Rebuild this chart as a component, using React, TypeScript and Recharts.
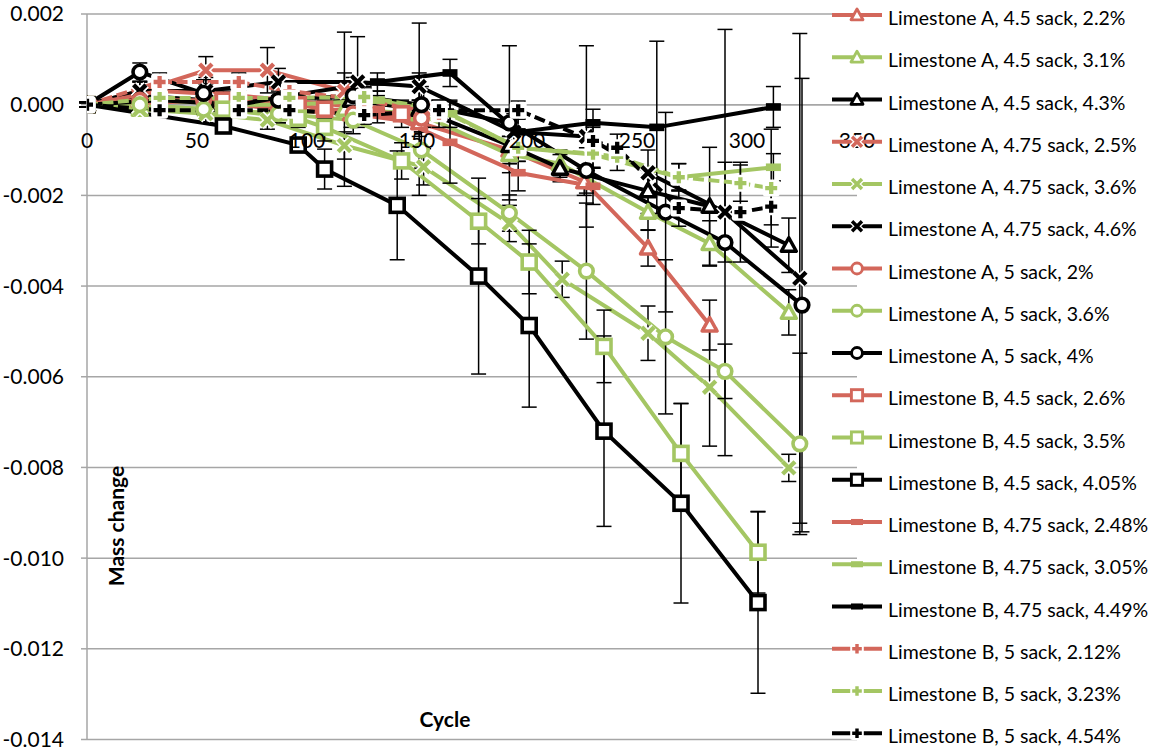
import React from 'react';
import { LineChart, Line, XAxis, YAxis, CartesianGrid, ErrorBar, ReferenceLine, Legend } from 'recharts';

const RED = '#D3675B';
const GREEN = '#A4C663';
const BLACK = '#000000';
const GRID = '#A6A6A6';
const FONT = 'Lato, "Open Sans", sans-serif';

const X_TICKS = [0, 50, 100, 150, 200, 250, 300, 350];
const Y_TICKS = [0.002, 0, -0.002, -0.004, -0.006, -0.008, -0.01, -0.012, -0.014];

const SERIES_NAMES = [
  'Limestone A, 4.5 sack, 2.2%',
  'Limestone A, 4.5 sack, 3.1%',
  'Limestone A, 4.5 sack, 4.3%',
  'Limestone A, 4.75 sack, 2.5%',
  'Limestone A, 4.75 sack, 3.6%',
  'Limestone A, 4.75 sack, 4.6%',
  'Limestone A, 5 sack, 2%',
  'Limestone A, 5 sack, 3.6%',
  'Limestone A, 5 sack, 4%',
  'Limestone B, 4.5 sack, 2.6%',
  'Limestone B, 4.5 sack, 3.5%',
  'Limestone B, 4.5 sack, 4.05%',
  'Limestone B, 4.75 sack, 2.48%',
  'Limestone B, 4.75 sack, 3.05%',
  'Limestone B, 4.75 sack, 4.49%',
  'Limestone B, 5 sack, 2.12%',
  'Limestone B, 5 sack, 3.23%',
  'Limestone B, 5 sack, 4.54%',
];

// Limestone A, 4.5 sack
const a45_22_x = [0, 24, 54, 87, 120, 151, 192, 226, 255, 283];
const a45_22_y = [0, 0.0001, 0.0001, -0.0001, -0.0002, -0.0004, -0.001, -0.0017, -0.00316, -0.00486];
const a45_22_e = [0.00005, 0.0002, 0.0002, 0.0002, 0.0003, 0.0003, 0.0003, 0.0003, 0.0004, 0.00055];

const a45_31_x = [0, 24, 54, 87, 117, 151, 192, 215, 255, 283, 319];
const a45_31_y = [0, -0.0001, -0.0001, -0.0002, -0.0001, -0.0002, -0.0011, -0.0013, -0.00237, -0.00306, -0.00458];
const a45_31_e = [0.00005, 0.0001, 0.0001, 0.0002, 0.0017, 0.0003, 0.0004, 0.0003, 0.0004, 0.0005, 0.0005];

const a45_43_x = [0, 24, 54, 87, 120, 151, 192, 215, 255, 283, 319];
const a45_43_y = [0, 0.0002, 0.0001, 0, 0.0001, -0.0001, -0.0009, -0.0014, -0.0019, -0.00224, -0.0031];
const a45_43_e = [0.00005, 0.0002, 0.0002, 0.0003, 0.0003, 0.0019, 0.0004, 0.0003, 0.0005, 0.0013, 0.0006];

// Limestone A, 4.75 sack
const a475_25_x = [0, 24, 54, 82, 117, 153];
const a475_25_y = [0, 0.0003, 0.00076, 0.00076, 0.0003, -0.0001];
const a475_25_e = [0.00005, 0.0002, 0.0003, 0.0005, 0.0004, 0.0004];

const a475_36_x = [0, 24, 54, 82, 117, 153, 192, 216, 255, 283, 319];
const a475_36_y = [0, -0.0001, -0.0002, -0.00034, -0.0009, -0.00137, -0.00262, -0.00385, -0.00504, -0.00623, -0.00801];
const a475_36_e = [0.00005, 0.0001, 0.0002, 0.0002, 0.0003, 0.0004, 0.0004, 0.0004, 0.0006, 0.0013, 0.0003];

const a475_46_x = [0, 24, 54, 87, 123, 151, 194, 227, 255, 290, 324];
const a475_46_y = [0, 0.0003, 0.0003, 0.0005, 0.0005, 0.0004, -0.0006, -0.0007, -0.0015, -0.00237, -0.00383];
const a475_46_e = [0.00005, 0.0002, 0.0003, 0.0003, 0.001, 0.0003, 0.0004, 0.002, 0.0005, 0.0011, 0.0054];

// Limestone A, 5 sack
const a5_2_x = [0, 24, 53, 87, 121, 152];
const a5_2_y = [0, 0.0001, 0.0001, -0.0001, -0.0002, -0.0003];
const a5_2_e = [0.00005, 0.0001, 0.0002, 0.0002, 0.0002, 0.0003];

const a5_36_x = [0, 24, 53, 87, 121, 152, 192, 227, 263, 290, 324];
const a5_36_y = [0, 0, -0.0001, -0.0002, -0.00034, -0.001, -0.00239, -0.00367, -0.00512, -0.00588, -0.00748];
const a5_36_e = [0.00005, 0.0001, 0.0001, 0.0002, 0.0003, 0.0004, 0.0004, 0.0015, 0.0017, 0.0006, 0.002];

const a5_4_x = [0, 24, 53, 87, 121, 152, 192, 227, 263, 290, 325];
const a5_4_y = [0, 0.00072, 0.00025, 0.0001, 0.0002, 0, -0.0004, -0.00145, -0.00237, -0.00304, -0.00442];
const a5_4_e = [0.00005, 0.0002, 0.0003, 0.0003, 0.0004, 0.0004, 0.0017, 0.0005, 0.0022, 0.0047, 0.005];

// Limestone B, 4.5 sack
const b45_26_x = [0, 62, 96, 108, 143];
const b45_26_y = [0, 0.0001, 0, -0.0001, -0.0002];
const b45_26_e = [0.00005, 0.0002, 0.0002, 0.0002, 0.0003];

const b45_35_x = [0, 62, 96, 108, 143, 178, 201, 235, 270, 305];
const b45_35_y = [0, -0.0001, -0.0003, -0.0005, -0.00124, -0.00257, -0.00347, -0.00533, -0.00769, -0.00987];
const b45_35_e = [0.00005, 0.0001, 0.0002, 0.0003, 0.0004, 0.0005, 0.0007, 0.0008, 0.0011, 0.0009];

const b45_405_x = [0, 62, 96, 108, 141, 178, 201, 235, 270, 305];
const b45_405_y = [0, -0.00047, -0.00089, -0.00142, -0.00222, -0.00378, -0.00487, -0.0072, -0.00879, -0.01098];
const b45_405_e = [0.00005, 0.0001, 0.0001, 0.00044, 0.0012, 0.00216, 0.0018, 0.0021, 0.0022, 0.002];

// Limestone B, 4.75 sack
const b475_248_x = [0, 33, 69, 92, 132, 165, 196, 230];
const b475_248_y = [0, 0.0003, 0.0002, 0.0001, -0.0001, -0.00083, -0.0015, -0.0018];
const b475_248_e = [0.00005, 0.0001, 0.0002, 0.0002, 0.0003, 0.0009, 0.0004, 0.0004];

const b475_305_x = [0, 33, 69, 92, 132, 165, 196, 230, 269, 312];
const b475_305_y = [0, 0.0001, 0, 0, 0.0001, -0.0002, -0.00095, -0.0011, -0.0016, -0.00138];
const b475_305_e = [0.00005, 0.0001, 0.0001, 0.0002, 0.0002, 0.0003, 0.0003, 0.0003, 0.0003, 0.0003];

const b475_449_x = [0, 33, 69, 92, 132, 165, 196, 230, 259, 312];
const b475_449_y = [0, 0.0001, 0, 0.0002, 0.0005, 0.0007, -0.0006, -0.0004, -0.0005, -0.00005];
const b475_449_e = [0.00005, 0.0001, 0.0001, 0.0002, 0.0002, 0.0003, 0.0004, 0.0003, 0.0019, 0.00045];

// Limestone B, 5 sack
const b5_212_x = [0, 33, 69, 92, 126, 160];
const b5_212_y = [0, 0.0005, 0.0005, 0.0003, 0.0001, -0.0002];
const b5_212_e = [0.00005, 0.0002, 0.0002, 0.0002, 0.0003, 0.0003];

const b5_323_x = [0, 33, 69, 92, 126, 160, 196, 230, 241, 269, 297, 311];
const b5_323_y = [0, 0.00015, 0.00015, 0.00015, 0.00017, -0.0001, -0.00095, -0.00108, -0.00115, -0.0016, -0.00173, -0.00184];
const b5_323_e = [0.00005, 0.0001, 0.0001, 0.0001, 0.0002, 0.0002, 0.0003, 0.0003, 0.0003, 0.0003, 0.0004, 0.0013];

const b5_454_x = [0, 33, 69, 92, 126, 160, 196, 230, 241, 269, 297, 311];
const b5_454_y = [0, -0.00012, -0.00012, -0.00012, -0.00023, -0.00012, -0.00012, -0.0008, -0.00095, -0.00228, -0.00237, -0.00225];
const b5_454_e = [0.00005, 0.0001, 0.0001, 0.0001, 0.0002, 0.0002, 0.0002, 0.0003, 0.0003, 0.0004, 0.0011, 0.0004];

type Kind = 'triangle' | 'x' | 'circle' | 'square' | 'dash' | 'plus';

const toPoints = (xs: number[], ys: number[], es: number[]) =>
  xs.map((x, i) => ({ x, y: ys[i], e: es[i] }));

const SERIES: { name: string; color: string; kind: Kind; dashed: boolean; data: any[] }[] = [
  { name: SERIES_NAMES[0], color: RED, kind: 'triangle', dashed: false, data: toPoints(a45_22_x, a45_22_y, a45_22_e) },
  { name: SERIES_NAMES[1], color: GREEN, kind: 'triangle', dashed: false, data: toPoints(a45_31_x, a45_31_y, a45_31_e) },
  { name: SERIES_NAMES[2], color: BLACK, kind: 'triangle', dashed: false, data: toPoints(a45_43_x, a45_43_y, a45_43_e) },
  { name: SERIES_NAMES[3], color: RED, kind: 'x', dashed: false, data: toPoints(a475_25_x, a475_25_y, a475_25_e) },
  { name: SERIES_NAMES[4], color: GREEN, kind: 'x', dashed: false, data: toPoints(a475_36_x, a475_36_y, a475_36_e) },
  { name: SERIES_NAMES[5], color: BLACK, kind: 'x', dashed: false, data: toPoints(a475_46_x, a475_46_y, a475_46_e) },
  { name: SERIES_NAMES[6], color: RED, kind: 'circle', dashed: false, data: toPoints(a5_2_x, a5_2_y, a5_2_e) },
  { name: SERIES_NAMES[7], color: GREEN, kind: 'circle', dashed: false, data: toPoints(a5_36_x, a5_36_y, a5_36_e) },
  { name: SERIES_NAMES[8], color: BLACK, kind: 'circle', dashed: false, data: toPoints(a5_4_x, a5_4_y, a5_4_e) },
  { name: SERIES_NAMES[9], color: RED, kind: 'square', dashed: false, data: toPoints(b45_26_x, b45_26_y, b45_26_e) },
  { name: SERIES_NAMES[10], color: GREEN, kind: 'square', dashed: false, data: toPoints(b45_35_x, b45_35_y, b45_35_e) },
  { name: SERIES_NAMES[11], color: BLACK, kind: 'square', dashed: false, data: toPoints(b45_405_x, b45_405_y, b45_405_e) },
  { name: SERIES_NAMES[12], color: RED, kind: 'dash', dashed: false, data: toPoints(b475_248_x, b475_248_y, b475_248_e) },
  { name: SERIES_NAMES[13], color: GREEN, kind: 'dash', dashed: false, data: toPoints(b475_305_x, b475_305_y, b475_305_e) },
  { name: SERIES_NAMES[14], color: BLACK, kind: 'dash', dashed: false, data: toPoints(b475_449_x, b475_449_y, b475_449_e) },
  { name: SERIES_NAMES[15], color: RED, kind: 'plus', dashed: true, data: toPoints(b5_212_x, b5_212_y, b5_212_e) },
  { name: SERIES_NAMES[16], color: GREEN, kind: 'plus', dashed: true, data: toPoints(b5_323_x, b5_323_y, b5_323_e) },
  { name: SERIES_NAMES[17], color: BLACK, kind: 'plus', dashed: true, data: toPoints(b5_454_x, b5_454_y, b5_454_e) },
];

// layout
const W = 1158;
const H = 753;
const PLOT_TOP = 14;
const PLOT_LEFT = 87;
const PLOT_RIGHT = 857;
const PLOT_BOTTOM = 739.5;
const X_AXIS_H = 1;
const PLOT_H = PLOT_BOTTOM - PLOT_TOP;
const Y_MAX = 0.002;
const Y_MIN = -0.014;
const ZERO_Y = PLOT_TOP + (PLOT_H * Y_MAX) / (Y_MAX - Y_MIN);

function Marker({ kind, color, cx, cy, s = 1 }: { kind: Kind; color: string; cx: number; cy: number; s?: number }) {
  if (cx == null || cy == null || isNaN(cx) || isNaN(cy)) return null;
  switch (kind) {
    case 'triangle': {
      const h = 7.5 * s;
      return (
        <polygon
          points={`${cx},${cy - h} ${cx + h},${cy + h * 0.8} ${cx - h},${cy + h * 0.8}`}
          fill="#fff"
          stroke={color}
          strokeWidth={3.5 * s}
          strokeLinejoin="round"
        />
      );
    }
    case 'x': {
      const d = 6.2 * s;
      const p = `M${cx - d},${cy - d}L${cx + d},${cy + d}M${cx - d},${cy + d}L${cx + d},${cy - d}`;
      return (
        <g>
          <path d={p} stroke="#fff" strokeWidth={7.5 * s} />
          <path d={p} stroke={color} strokeWidth={4.3 * s} />
        </g>
      );
    }
    case 'circle':
      return <circle cx={cx} cy={cy} r={6.8 * s} fill="#fff" stroke={color} strokeWidth={3.6 * s} />;
    case 'square':
      return (
        <rect x={cx - 7 * s} y={cy - 7 * s} width={14 * s} height={14 * s} fill="#fff" stroke={color} strokeWidth={3.6 * s} />
      );
    case 'dash':
      return <rect x={cx - 7.5 * s} y={cy - 3.8 * s} width={15 * s} height={7.6 * s} fill={color} />;
    case 'plus': {
      const a = 6 * s;
      return (
        <g>
          <rect x={cx - 8.5 * s} y={cy - 8.5 * s} width={17 * s} height={17 * s} rx={3 * s} fill="#fff" />
          <path d={`M${cx - a},${cy}H${cx + a}M${cx},${cy - a}V${cy + a}`} stroke={color} strokeWidth={4.3 * s} />
        </g>
      );
    }
  }
  return null;
}

const renderXTick = (props: any) => {
  const { x, payload } = props;
  return (
    <text x={x} y={ZERO_Y + 43} textAnchor="middle" fontSize={21} fontFamily={FONT} fill="#000">
      {payload.value}
    </text>
  );
};

const LEG_LEFT = 815;
const LEG_Y0 = 15;
const LEG_DY = 42.25;

const renderLegend = () => (
  <svg width={W - LEG_LEFT} height={H} style={{ display: 'block', overflow: 'visible' }}>
    {SERIES.map((s, i) => {
      const cy = LEG_Y0 + i * LEG_DY;
      return (
        <g key={s.name}>
          {s.dashed ? (
            <g>
              <line x1={17} x2={36} y1={cy} y2={cy} stroke={s.color} strokeWidth={4} />
              <line x1={48} x2={67} y1={cy} y2={cy} stroke={s.color} strokeWidth={4} />
            </g>
          ) : (
            <line x1={17} x2={67} y1={cy} y2={cy} stroke={s.color} strokeWidth={4} />
          )}
          <Marker kind={s.kind} color={s.color} cx={42} cy={cy} s={0.8} />
          <text x={73} y={cy + 10} fontSize={19.5} fontFamily={FONT} fill="#000">
            {s.name}
          </text>
        </g>
      );
    })}
  </svg>
);

const yTitle = () => (
  <text
    x={115}
    y={526}
    transform="rotate(-90 115 526)"
    textAnchor="middle"
    dominantBaseline="central"
    fontSize={21}
    fontWeight="bold"
    fontFamily={FONT}
    fill="#000"
  >
    Mass change
  </text>
);

const xTitle = () => (
  <text x={445} y={718} textAnchor="middle" dominantBaseline="central" fontSize={21} fontWeight="bold" fontFamily={FONT} fill="#000">
    Cycle
  </text>
);

export default function App() {
  return (
    <div style={{ position: 'absolute', left: 0, top: 0, width: W, height: H, background: '#fff', fontFamily: FONT }}>
      <LineChart
        width={W}
        height={H}
        margin={{ top: PLOT_TOP, right: W - PLOT_RIGHT, bottom: H - PLOT_BOTTOM - X_AXIS_H, left: 0 }}
      >
        <CartesianGrid horizontal vertical={false} stroke={GRID} strokeWidth={1.5} />
        <XAxis
          type="number"
          dataKey="x"
          domain={[0, 350]}
          ticks={X_TICKS}
          interval={0}
          height={X_AXIS_H}
          axisLine={false}
          tickLine={false}
          tick={renderXTick}
          allowDataOverflow
          label={xTitle}
        />
        <YAxis
          type="number"
          domain={[Y_MIN, Y_MAX]}
          ticks={Y_TICKS}
          interval={0}
          width={PLOT_LEFT}
          axisLine={{ stroke: GRID, strokeWidth: 1.5 }}
          tickLine={{ stroke: GRID, strokeWidth: 1.5 }}
          tickSize={6}
          tickMargin={17}
          tick={{ fill: '#000', fontSize: 21, fontFamily: FONT }}
          tickFormatter={(v: number) => v.toFixed(3)}
          allowDataOverflow
          label={yTitle}
        />
        <ReferenceLine y={0} stroke={GRID} strokeWidth={1.5} />
        {SERIES.map((s, si) => (
          <Line
            key={s.name}
            name={s.name}
            data={s.data}
            dataKey="y"
            type="linear"
            stroke={s.color}
            strokeWidth={4}
            strokeDasharray={s.dashed ? '11 4.5' : undefined}
            isAnimationActive={false}
            activeDot={false}
            dot={(p: any) => <Marker key={`m-${si}-${p.index}`} kind={s.kind} color={s.color} cx={p.cx} cy={p.cy} />}
          >
            <ErrorBar dataKey="e" direction="y" width={7.5} stroke="#000" strokeWidth={1.5} isAnimationActive={false} />
          </Line>
        ))}
        <Legend
          layout="vertical"
          align="center"
          verticalAlign="middle"
          content={renderLegend}
          wrapperStyle={{ position: 'absolute', left: LEG_LEFT, top: 0, width: W - LEG_LEFT, height: H }}
        />
      </LineChart>
    </div>
  );
}
